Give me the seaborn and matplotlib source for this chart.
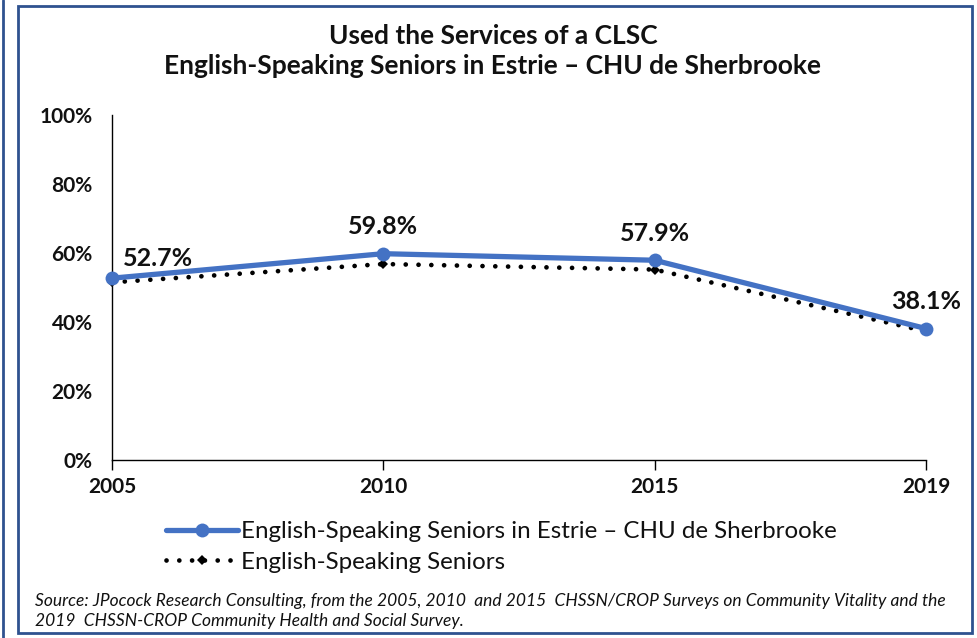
import pandas as pd
import matplotlib.pyplot as plt
import seaborn as sns
from matplotlib.patches import Rectangle
from matplotlib.lines import Line2D

years = ["2005", "2010", "2015", "2019"]
estrie_values = [52.7, 59.8, 57.9, 38.1]
seniors_values = [51.5, 56.8, 55.2, 37.3]
estrie_label = "English-Speaking Seniors in Estrie – CHU de Sherbrooke"
seniors_label = "English-Speaking Seniors"
title_text = "Used the Services of a CLSC\nEnglish-Speaking Seniors in Estrie – CHU de Sherbrooke"
source_text = ("Source: JPocock Research Consulting, from the 2005, 2010  and 2015  CHSSN/CROP Surveys on Community Vitality and the\n"
               "2019  CHSSN-CROP Community Health and Social Survey.")

BLUE = "#4472C4"
FRAME = "#2F528F"
TXT = "#111111"

sns.set_theme(style="white")
plt.rcParams["font.family"] = ["Lato", "DejaVu Sans"]

df = pd.DataFrame({"year": years, "estrie": estrie_values, "seniors": seniors_values})

fig = plt.figure(figsize=(9.77, 6.38), dpi=100)
ax = fig.add_axes([112 / 977, 1 - 460 / 638, (926 - 112) / 977, (460 - 115) / 638])

dotted = (0, (0.01, 2.7))
sns.lineplot(data=df, x="year", y="seniors", ax=ax, color="black", linewidth=3.4,
             linestyle=dotted, dash_capstyle="round",
             marker="D", markersize=5, markeredgewidth=0, zorder=2)
sns.lineplot(data=df, x="year", y="estrie", ax=ax, color=BLUE, linewidth=3.8,
             marker="o", markersize=10, markeredgewidth=0, zorder=3)
for ln in ax.lines:
    ln.set_clip_on(False)

for i, v in enumerate(estrie_values):
    first = i == 0
    ax.annotate(f"{v:.1f}%", (i, v), xytext=(8 if first else 0, 6 if first else 11),
                textcoords="offset points", ha="left" if first else "center", va="bottom",
                fontsize=18, fontweight="bold", color=TXT)

ax.set_xlim(0, len(years) - 1)
ax.set_ylim(0, 100)
ax.set_yticks(range(0, 101, 20))
ax.set_yticklabels([f"{t}%" for t in range(0, 101, 20)])
ax.set_xlabel("")
ax.set_ylabel("")
for s in ["top", "right"]:
    ax.spines[s].set_visible(False)
for s in ["left", "bottom"]:
    ax.spines[s].set_color("black")
    ax.spines[s].set_linewidth(1.0)
ax.tick_params(axis="y", length=0, pad=14, labelsize=15)
ax.tick_params(axis="x", length=7, width=1.0, color="black", direction="out", pad=5, labelsize=15)
ax.xaxis.set_ticks_position("bottom")
for lab in ax.get_xticklabels() + ax.get_yticklabels():
    lab.set_fontweight("bold")
    lab.set_color(TXT)
if ax.get_legend():
    ax.get_legend().remove()

fig.text(493 / 977, 1 - 51 / 638, title_text, ha="center", va="center",
         fontsize=19, fontweight="bold", color=TXT, linespacing=1.3)

handles = [
    Line2D([], [], color=BLUE, linewidth=3.8, marker="o", markersize=10, markeredgewidth=0),
    Line2D([], [], color="black", linewidth=3.4, linestyle=dotted,
           dash_capstyle="round", marker="D", markersize=5, markeredgewidth=0),
]
fig.legend(handles, [estrie_label, seniors_label], loc="center left",
           bbox_to_anchor=(144 / 977, 1 - 547 / 638), frameon=False,
           fontsize=17.4, handlelength=3.0, handletextpad=0.1, labelspacing=0.4,
           labelcolor=TXT)

fig.text(35 / 977, 1 - 611 / 638, source_text, ha="left", va="center",
         fontsize=12.55, style="italic", color=TXT, linespacing=1.25)

fig.patches.append(Rectangle((18 / 977, 5 / 638), (972 - 18) / 977, (632 - 5) / 638,
                             transform=fig.transFigure, fill=False, edgecolor=FRAME, linewidth=2))
fig.lines.append(Line2D([3 / 977, 3 / 977], [0, 1], transform=fig.transFigure,
                        color=FRAME, linewidth=2))

fig.savefig("out.png", dpi=100)
